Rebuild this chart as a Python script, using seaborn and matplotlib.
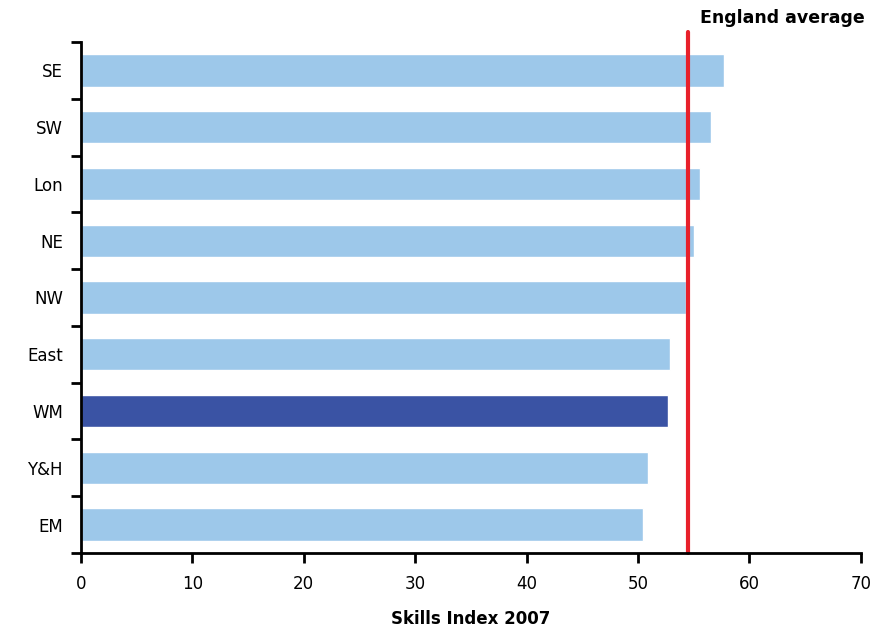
import matplotlib
matplotlib.use("Agg")
import matplotlib.pyplot as plt
import seaborn as sns
import pandas as pd
import numpy as np

regions = ["SE", "SW", "Lon", "NE", "NW", "East", "WM", "Y&H", "EM"]
skills_index = [57.7, 56.6, 55.6, 55.0, 54.3, 52.9, 52.7, 50.9, 50.5]
england_average = 54.5
highlight = "WM"
x_ticks = [0, 10, 20, 30, 40, 50, 60, 70]

light_blue = "#9DC8EA"
dark_blue = "#3A53A4"
red = "#E8202A"

sns.set_theme(style="white", rc={
    "xtick.bottom": True, "ytick.left": True,
    "text.color": "black", "axes.labelcolor": "black",
    "xtick.color": "black", "ytick.color": "black",
})
plt.rcParams["font.family"] = ["DejaVu Sans"]

df = pd.DataFrame({"region": regions, "value": skills_index})
palette = {r: (dark_blue if r == highlight else light_blue) for r in regions}

fig = plt.figure(figsize=(8.75, 6.34), dpi=100)
ax = fig.add_axes([0.0926, 0.1278, 0.891, 0.806])

sns.barplot(data=df, y="region", x="value", hue="region", palette=palette,
            order=regions, orient="h", width=0.57, legend=False, ax=ax,
            saturation=1)

ax.axvline(england_average, ymin=0, ymax=1.02, color=red, lw=3, clip_on=False)
ax.text(1.005, 1.03, "England average", transform=ax.transAxes,
        ha="right", va="bottom", fontsize=12.5, fontweight="bold")

ax.set_xlim(0, 70)
ax.set_ylim(len(regions) - 0.5, -0.5)
ax.set_xticks(x_ticks)
ax.set_xticklabels([str(t) for t in x_ticks], fontsize=12)
ax.set_yticks(range(len(regions)))
ax.set_yticklabels(regions, fontsize=12)
ax.set_yticks(np.arange(-0.5, len(regions), 1.0), minor=True)
ax.tick_params(axis="y", which="major", length=0, pad=13)
ax.tick_params(axis="y", which="minor", left=True, length=7, width=2,
               direction="out", color="black")
ax.tick_params(axis="x", which="major", bottom=True, length=7, width=2,
               direction="out", color="black", pad=9)

ax.set_xlabel("Skills Index 2007", fontsize=12, fontweight="bold", labelpad=12)
ax.set_ylabel("")

for side in ["top", "right"]:
    ax.spines[side].set_visible(False)
for side in ["left", "bottom"]:
    ax.spines[side].set_color("black")
    ax.spines[side].set_linewidth(2)

fig.savefig("out.png", dpi=100)
